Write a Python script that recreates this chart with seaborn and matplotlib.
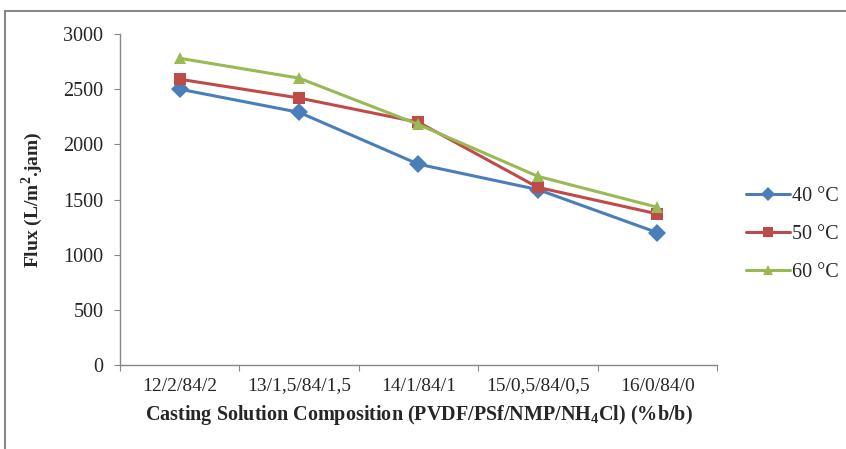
import pandas as pd
import matplotlib
matplotlib.use("Agg")
import matplotlib.pyplot as plt
from matplotlib.patches import Rectangle
from matplotlib.ticker import FixedLocator
import seaborn as sns

compositions = ["12/2/84/2", "13/1,5/84/1,5", "14/1/84/1", "15/0,5/84/0,5", "16/0/84/0"]
temps = ["40 °C", "50 °C", "60 °C"]
flux_40 = [2500, 2290, 1820, 1590, 1200]
flux_50 = [2590, 2420, 2200, 1610, 1370]
flux_60 = [2780, 2600, 2180, 1710, 1430]

colors = ["#4A7EBB", "#BE4B48", "#98B954"]
markers = ["D", "s", "^"]

sns.set_style("white")
plt.rcParams["font.family"] = ["Liberation Serif", "DejaVu Serif"]
plt.rcParams["mathtext.fontset"] = "custom"
plt.rcParams["mathtext.rm"] = "Liberation Serif"
plt.rcParams["mathtext.bf"] = "Liberation Serif:bold"

rows = []
for t, vals in zip(temps, [flux_40, flux_50, flux_60]):
    for i, v in enumerate(vals):
        rows.append({"pos": i, "comp": compositions[i], "temp": t, "flux": v})
df = pd.DataFrame(rows)

fig = plt.figure(figsize=(8.46, 4.49), dpi=100)
ax = fig.add_axes([0.1418, 0.187, 0.7057, 0.7373])

sns.lineplot(data=df, x="pos", y="flux", hue="temp", style="temp",
             palette=colors, markers=markers, dashes=False,
             linewidth=2.2, markersize=9, markeredgewidth=0, ax=ax)

ax.set_xlim(-0.5, 4.5)
ax.set_ylim(0, 3000)
ax.set_yticks(range(0, 3001, 500))
ax.xaxis.set_major_locator(FixedLocator([i - 0.5 for i in range(6)]))
ax.xaxis.set_minor_locator(FixedLocator(range(5)))
ax.set_xticklabels([])
ax.set_xticklabels(compositions, minor=True)
ax.tick_params(axis="x", which="major", length=4, color="#868686", direction="out", bottom=True)
ax.tick_params(axis="x", which="minor", length=0, labelsize=14, pad=9)
ax.tick_params(axis="y", length=4, color="#868686", direction="out", left=True, labelsize=14.5, pad=8)

for s in ["top", "right"]:
    ax.spines[s].set_visible(False)
for s in ["left", "bottom"]:
    ax.spines[s].set_color("#868686")
    ax.spines[s].set_linewidth(1.0)

ax.set_xlabel("Casting Solution Composition (PVDF/PSf/NMP/NH$_\\mathbf{4}$Cl) (%b/b)",
              fontsize=14.5, fontweight="bold", labelpad=6)
ax.set_ylabel("Flux (L/m$^\\mathbf{2}$.jam)", fontsize=14, fontweight="bold", labelpad=13)

handles, labels = ax.get_legend_handles_labels()
for h in handles:
    h.set_markersize(7)
ax.legend(handles, labels, loc="center left", bbox_to_anchor=(1.018, 0.395),
          frameon=False, fontsize=14.5, handlelength=2.2, labelspacing=0.95,
          handletextpad=0.1)

fig.patches.append(Rectangle((5 / 846, -0.1), 1.2, 1.1 - 11 / 449,
                             transform=fig.transFigure, fill=False,
                             edgecolor="#888888", linewidth=1.5))

fig.savefig("out.png", dpi=100)
